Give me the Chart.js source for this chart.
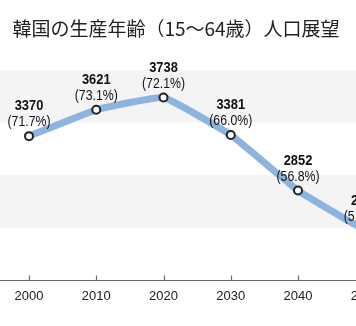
<!DOCTYPE html>
<html>
<head>
<meta charset="utf-8">
<script src="https://cdn.jsdelivr.net/npm/chart.js@4"></script>
<style>
  html, body { margin: 0; padding: 0; background: #fff; }
  #wrap { position: relative; width: 356px; height: 326px; overflow: hidden; }
  #title { position: absolute; top: 17px; left: 0; width: 352px; text-align: center;
           font: 19px/22px "Noto Sans CJK JP", sans-serif; color: #222; white-space: nowrap; }
  #cv-box { position: absolute; left: 0; top: 0; width: 420px; height: 326px; }
</style>
</head>
<body>
<div id="wrap">
  <div id="cv-box"><canvas id="c"></canvas></div>
  <div id="title">韓国の生産年齢（15～64歳）人口展望</div>
</div>
<script>
const years = [2000, 2010, 2020, 2030, 2040, 2050];
const population = [3370, 3621, 3738, 3381, 2852, 2470];
const shares = ['71.7', '73.1', '72.1', '66.0', '56.8', '51.1'];
const tickYears = [2000, 2010, 2020, 2030, 2040, 2050];
const bandRanges = [[2500, 3000], [3500, 4000]];

const bandsPlugin = {
  id: 'bands',
  beforeDatasetsDraw(chart) {
    const { ctx, scales } = chart;
    ctx.save();
    ctx.fillStyle = '#f4f4f6';
    bandRanges.forEach(([a, b]) => {
      const y1 = scales.y.getPixelForValue(b);
      const y2 = scales.y.getPixelForValue(a);
      ctx.fillRect(0, y1, chart.width, y2 - y1);
    });
    const yb = Math.round(scales.y.getPixelForValue(2000)) + 0.5;
    ctx.strokeStyle = '#6a6a6a';
    ctx.lineWidth = 1.2;
    ctx.beginPath();
    ctx.moveTo(0, yb); ctx.lineTo(chart.width, yb);
    tickYears.forEach(t => {
      const x = Math.round(scales.x.getPixelForValue(t)) + 0.5;
      ctx.moveTo(x, yb - 5); ctx.lineTo(x, yb);
    });
    ctx.stroke();
    ctx.restore();
  }
};

function narrowText(ctx, text, x, y, sx) {
  ctx.save();
  ctx.translate(x, y);
  ctx.scale(sx, 1);
  ctx.fillText(text, 0, 0);
  ctx.restore();
}

const labelPlugin = {
  id: 'vlabels',
  afterDatasetsDraw(chart) {
    const { ctx } = chart;
    const meta = chart.getDatasetMeta(0);
    ctx.save();
    ctx.textAlign = 'center';
    ctx.textBaseline = 'middle';
    ctx.fillStyle = '#111';
    meta.data.forEach((pt, i) => {
      ctx.font = 'bold 15px "Liberation Sans", sans-serif';
      narrowText(ctx, String(population[i]), pt.x, pt.y - 30, 0.86);
      ctx.font = '15px "Liberation Sans", sans-serif';
      narrowText(ctx, '(' + shares[i] + '%)', pt.x, pt.y - 14, 0.82);
    });
    ctx.restore();
  }
};

const pxPerYear = 6.725;
const xMin = 2000 - 29 / pxPerYear;
const xMax = xMin + 420 / pxPerYear;

new Chart(document.getElementById('c'), {
  type: 'line',
  data: {
    datasets: [{
      data: years.map((y, i) => ({ x: y, y: population[i] })),
      borderColor: '#8db4de',
      borderWidth: 7,
      tension: 0.1,
      pointRadius: 4,
      pointBorderWidth: 2,
      pointBackgroundColor: '#fff',
      pointBorderColor: '#222',
      clip: false
    }]
  },
  options: {
    responsive: true,
    maintainAspectRatio: false,
    animation: false,
    layout: { autoPadding: false, padding: { top: 70, left: 0, right: 0, bottom: 0 } },
    plugins: { legend: { display: false }, tooltip: { enabled: false }, title: { display: false } },
    scales: {
      x: {
        type: 'linear',
        min: xMin,
        max: xMax,
        grid: { display: false, drawTicks: false },
        border: { display: false },
        afterBuildTicks(scale) { scale.ticks = tickYears.map(v => ({ value: v })); },
        afterFit(scale) { scale.height = 46; scale.paddingLeft = 0; scale.paddingRight = 0; },
        ticks: {
          autoSkip: false,
          maxRotation: 0,
          padding: 9,
          color: '#222',
          font: { family: '"Liberation Sans", sans-serif', size: 13 },
          callback: v => String(v)
        }
      },
      y: {
        display: false,
        min: 2000,
        max: 4000
      }
    }
  },
  plugins: [bandsPlugin, labelPlugin]
});
</script>
</body>
</html>
